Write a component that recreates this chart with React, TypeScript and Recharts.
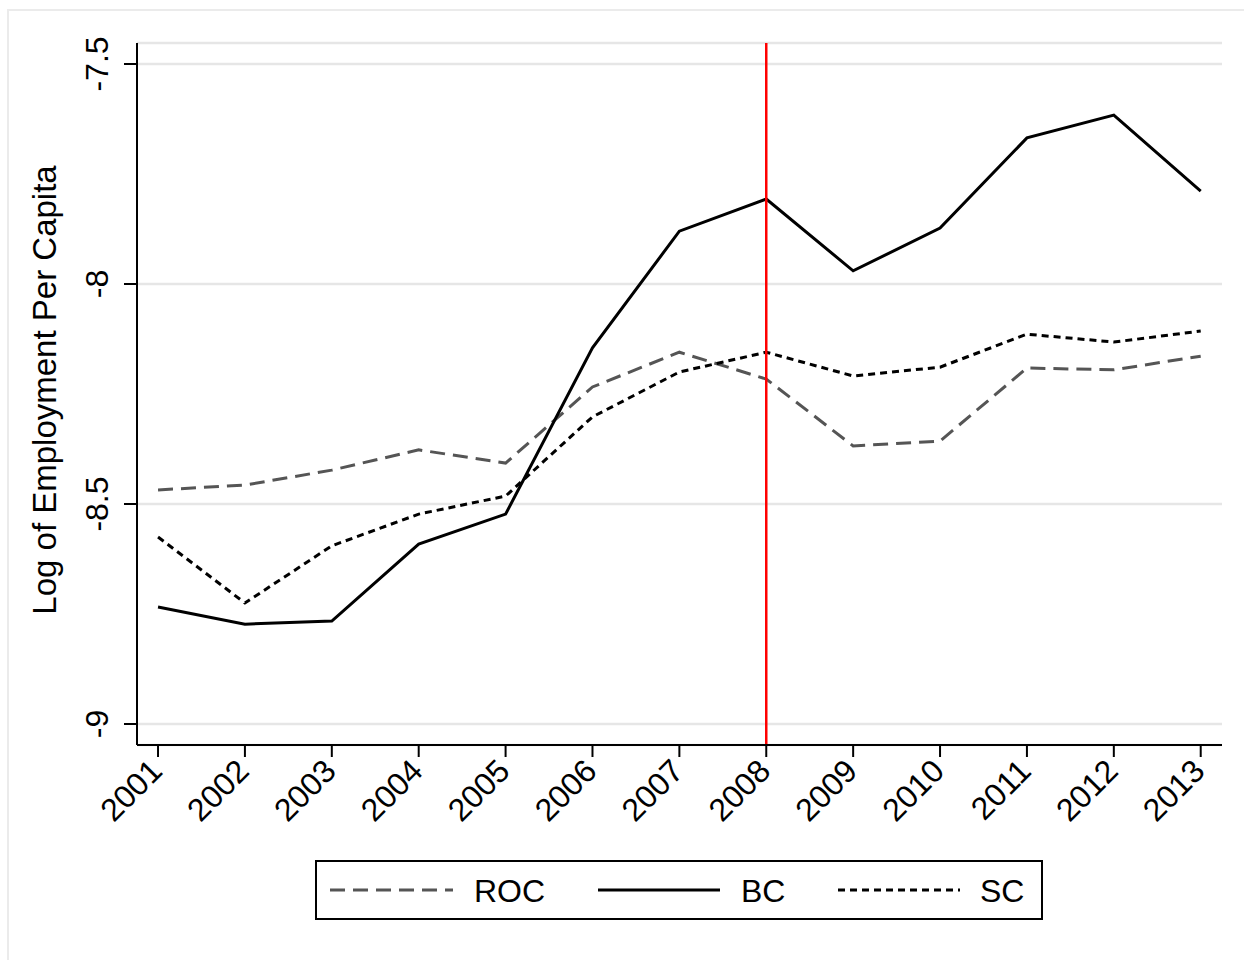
import React from "react";
import { LineChart, Line, XAxis, YAxis, CartesianGrid, ReferenceLine } from "recharts";

const years = [2001, 2002, 2003, 2004, 2005, 2006, 2007, 2008, 2009, 2010, 2011, 2012, 2013];
const roc = [-8.468, -8.457, -8.423, -8.377, -8.407, -8.234, -8.155, -8.216, -8.368, -8.357, -8.191, -8.195, -8.164];
const bc = [-8.734, -8.773, -8.766, -8.591, -8.523, -8.145, -7.88, -7.807, -7.97, -7.873, -7.668, -7.616, -7.789];
const sc = [-8.575, -8.725, -8.595, -8.523, -8.482, -8.302, -8.2, -8.155, -8.209, -8.189, -8.114, -8.132, -8.107];
const yTicks = [-9, -8.5, -8, -7.5];
const yTickLabels = ["-9", "-8.5", "-8", "-7.5"];
const treatYear = 2008;
const yLabel = "Log of Employment Per Capita";

const series = [
  { key: "ROC", name: "ROC", color: "#555555", dash: "15 8" },
  { key: "BC", name: "BC", color: "#000000", dash: undefined as string | undefined },
  { key: "SC", name: "SC", color: "#000000", dash: "7 5" },
];

const data = years.map((y, i) => ({ year: y, ROC: roc[i], BC: bc[i], SC: sc[i] }));

const FONT = "'Liberation Sans', Arial, Helvetica, sans-serif";

const YTick = (props: any) => {
  const { x, y, payload } = props;
  const idx = yTicks.indexOf(payload.value);
  const label = idx >= 0 ? yTickLabels[idx] : String(payload.value);
  return (
    <text x={x} y={y} transform={`rotate(-90, ${x}, ${y})`} textAnchor="middle" fontSize={32} fontFamily={FONT} fill="#000">
      {label}
    </text>
  );
};

const XTick = (props: any) => {
  const { x, y, payload } = props;
  const px = x + 6;
  return (
    <text x={px} y={y} transform={`rotate(-45, ${px}, ${y})`} textAnchor="end" fontSize={32} fontFamily={FONT} fill="#000">
      {payload.value}
    </text>
  );
};

const Overlay = () => {
  const items = [
    { lx1: 330, lx2: 453, tx: 474 },
    { lx1: 598, lx2: 720, tx: 741 },
    { lx1: 838, lx2: 960, tx: 980 },
  ];
  return (
    <svg width={1244} height={960} style={{ position: "absolute", left: 0, top: 0, pointerEvents: "none" }}>
      <text x={56} y={390} transform="rotate(-90, 56, 390)" textAnchor="middle" fontSize={33} fontFamily={FONT} fill="#000">
        {yLabel}
      </text>
      <rect x={316} y={861} width={726} height={58} fill="#fff" stroke="#000" strokeWidth={2} />
      {series.map((s, i) => (
        <g key={s.key}>
          <line x1={items[i].lx1} x2={items[i].lx2} y1={890} y2={890} stroke={s.color} strokeWidth={3} strokeDasharray={s.dash} />
          <text x={items[i].tx} y={901.5} fontSize={32} fontFamily={FONT} fill="#000">
            {s.name}
          </text>
        </g>
      ))}
    </svg>
  );
};

export default function App() {
  return (
    <div style={{ position: "absolute", left: 0, top: 0, width: 1244, height: 960, overflow: "hidden", background: "#fff" }}>
      <div style={{ position: "absolute", left: 7, top: 9, width: 1400, height: 1200, border: "2px solid #ebebeb", boxSizing: "border-box" }} />
      <div style={{ position: "absolute", left: 0, top: 0 }}>
        <LineChart width={1244} height={960} data={data} margin={{ top: 43, right: 22, left: 0, bottom: 115 }}>
          <CartesianGrid horizontal vertical={false} stroke="#e6e6e6" strokeWidth={2.5} />
          <XAxis
            dataKey="year"
            type="number"
            domain={[2000.758, 2013.245]}
            allowDataOverflow
            ticks={years}
            interval={0}
            height={100}
            tickSize={12}
            tickMargin={16}
            tick={<XTick />}
            axisLine={{ stroke: "#000", strokeWidth: 2 }}
            tickLine={{ stroke: "#000", strokeWidth: 2 }}
          />
          <YAxis
            type="number"
            domain={[-9.0477, -7.4523]}
            allowDataOverflow
            ticks={yTicks}
            interval={0}
            width={137}
            tickSize={13}
            tickMargin={16}
            tick={<YTick />}
            axisLine={{ stroke: "#000", strokeWidth: 2 }}
            tickLine={{ stroke: "#000", strokeWidth: 2 }}
          />
          {series.map((s) => (
            <Line
              key={s.key}
              dataKey={s.key}
              name={s.name}
              stroke={s.color}
              strokeWidth={3}
              strokeDasharray={s.dash}
              dot={false}
              activeDot={false}
              type="linear"
              isAnimationActive={false}
            />
          ))}
          <ReferenceLine x={treatYear} stroke="#ff0000" strokeWidth={2.5} />
        </LineChart>
      </div>
      <Overlay />
    </div>
  );
}
